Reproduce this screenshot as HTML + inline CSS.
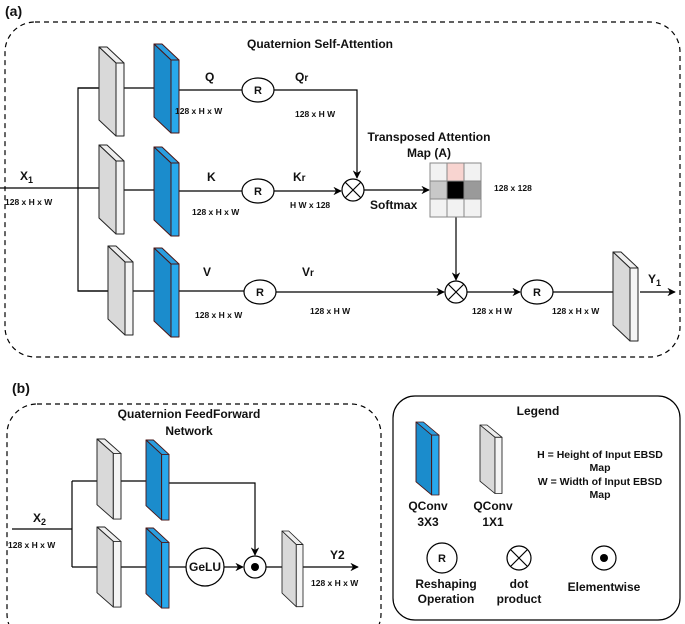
<!DOCTYPE html>
<html><head><meta charset="utf-8"><style>body{margin:0;background:#fff}svg{display:block}text{font-family:"Liberation Sans",Arial,sans-serif;font-weight:bold;fill:#111}</style></head><body>
<svg width="685" height="624" viewBox="0 0 685 624" xmlns="http://www.w3.org/2000/svg">
<defs>
<marker id="ar" viewBox="0 0 10 10" refX="9" refY="5" markerWidth="7" markerHeight="7" orient="auto"><path d="M0,0 L10,5 L0,10 L3,5 z" fill="#000"/></marker>
<g id="gb" stroke="#222" stroke-width="1" stroke-linejoin="round">
<polygon points="0,0 8,0 25,16 17,16" fill="#eee"/>
<polygon points="0,0 17,16 17,89 0,73" fill="#d9d9d9"/>
<polygon points="17,16 25,16 25,89 17,89" fill="#f4f4f4"/>
</g>
<g id="bb" stroke="#4a1515" stroke-width="1" stroke-linejoin="round">
<polygon points="0,0 8,0 25,16 17,16" fill="#2a9ee0"/>
<polygon points="0,0 17,16 17,89 0,73" fill="#1b8ccc"/>
<polygon points="17,16 25,16 25,89 17,89" fill="#28a8ec"/>
</g>
</defs>
<g fill="none" stroke="#000" stroke-width="1.2">
<rect x="5" y="22" width="675" height="335" rx="30" stroke-dasharray="5,4"/>
<rect x="7" y="404" width="374" height="240" rx="30" stroke-dasharray="5,4"/>
<rect x="393" y="396" width="287" height="224" rx="22"/>
</g>
<text x="5" y="16" font-size="14">(a)</text>
<text x="320" y="48" font-size="12" text-anchor="middle">Quaternion Self-Attention</text>
<g stroke="#000" stroke-width="1.2" fill="none">
<line x1="0" y1="188" x2="115" y2="188" marker-end="url(#ar)"/>
<polyline points="110,88 78,88 78,291 115,291" />
<line x1="78" y1="88" x2="115" y2="88" marker-end="url(#ar)"/>
<line x1="78" y1="291" x2="122" y2="291" marker-end="url(#ar)"/>
<line x1="124" y1="88" x2="170" y2="88" marker-end="url(#ar)"/>
<line x1="124" y1="190" x2="170" y2="190" marker-end="url(#ar)"/>
<line x1="133" y1="291" x2="170" y2="291" marker-end="url(#ar)"/>
<line x1="179" y1="90" x2="242" y2="90"/>
<line x1="179" y1="191" x2="242" y2="191"/>
<line x1="179" y1="291" x2="244" y2="291"/>
<polyline points="274,90 357,90 357,178" marker-end="url(#ar)"/>
<line x1="274" y1="191" x2="341" y2="191" marker-end="url(#ar)"/>
<line x1="364" y1="190" x2="429" y2="190" marker-end="url(#ar)"/>
<line x1="456" y1="217" x2="456" y2="280" marker-end="url(#ar)"/>
<line x1="276" y1="292" x2="444" y2="292" marker-end="url(#ar)"/>
<line x1="467" y1="292" x2="520" y2="292" marker-end="url(#ar)"/>
<line x1="553" y1="292" x2="626" y2="292" marker-end="url(#ar)"/>
<line x1="640" y1="292" x2="675" y2="292" marker-end="url(#ar)"/>
</g>
<use href="#gb" x="99" y="47"/>
<use href="#bb" x="154" y="44"/>
<use href="#gb" x="99" y="145"/>
<use href="#bb" x="154" y="147"/>
<use href="#gb" x="108" y="246"/>
<use href="#bb" x="154" y="248"/>
<use href="#gb" x="613" y="252"/>
<g stroke="#000" stroke-width="1.2" fill="#fff">
<ellipse cx="258" cy="90" rx="16" ry="12"/>
<ellipse cx="258" cy="191" rx="16" ry="12"/>
<ellipse cx="260" cy="292" rx="16" ry="12"/>
<ellipse cx="537" cy="292" rx="16" ry="12"/>
<circle cx="353" cy="190" r="11"/>
<path d="M345,182 L361,198 M361,182 L345,198"/>
<circle cx="456" cy="292" r="11"/>
<path d="M448,284 L464,300 M464,284 L448,300"/>
</g>
<g stroke="#888" stroke-width="1">
<rect x="430" y="163" width="17" height="18" fill="#f2f2f2"/><rect x="447" y="163" width="17" height="18" fill="#f8d4d0"/><rect x="464" y="163" width="17" height="18" fill="#f2f2f2"/>
<rect x="430" y="181" width="17" height="18" fill="#c8c8c8"/><rect x="447" y="181" width="17" height="18" fill="#000"/><rect x="464" y="181" width="17" height="18" fill="#9a9a9a"/>
<rect x="430" y="199" width="17" height="18" fill="#f2f2f2"/><rect x="447" y="199" width="17" height="18" fill="#f2f2f2"/><rect x="464" y="199" width="17" height="18" fill="#f2f2f2"/>
</g>
<g font-size="11" text-anchor="middle">
<text x="258" y="94">R</text><text x="258" y="195">R</text><text x="260" y="296">R</text><text x="537" y="296">R</text>
</g>
<g font-size="12">
<text x="205" y="81">Q</text><text x="295" y="81">Q<tspan font-size="10">r</tspan></text>
<text x="207" y="181">K</text><text x="293" y="181">K<tspan font-size="10">r</tspan></text>
<text x="203" y="276">V</text><text x="302" y="276">V<tspan font-size="10">r</tspan></text>
<text x="20" y="180">X<tspan font-size="9" dy="3">1</tspan></text>
<text x="648" y="283">Y<tspan font-size="9" dy="3">1</tspan></text>
<text x="429" y="141" text-anchor="middle">Transposed Attention</text>
<text x="429" y="157" text-anchor="middle">Map (A)</text>
<text x="370" y="209">Softmax</text>
</g>
<g font-size="8.5">
<text x="5" y="205">128 x H x W</text>
<text x="175" y="114">128 x H x W</text>
<text x="295" y="117">128 x H W</text>
<text x="192" y="215">128 x H x W</text>
<text x="290" y="208">H W x 128</text>
<text x="494" y="191">128 x 128</text>
<text x="195" y="318">128 x H x W</text>
<text x="310" y="314">128 x H W</text>
<text x="472" y="314">128 x H W</text>
<text x="552" y="314">128 x H  x W</text>
</g>
<text x="12" y="393" font-size="14">(b)</text>
<g font-size="12" text-anchor="middle">
<text x="189" y="418">Quaternion FeedForward</text>
<text x="189" y="435">Network</text>
<text x="538" y="415">Legend</text>
</g>
<g stroke="#000" stroke-width="1.2" fill="none">
<polyline points="12,529 72,529"/>
<polyline points="72,481 72,567"/>
<line x1="72" y1="481" x2="113" y2="481" marker-end="url(#ar)"/>
<line x1="72" y1="567" x2="113" y2="567" marker-end="url(#ar)"/>
<line x1="121" y1="481" x2="162" y2="481" marker-end="url(#ar)"/>
<line x1="121" y1="567" x2="162" y2="567" marker-end="url(#ar)"/>
<polyline points="169,483 255,483 255,555" marker-end="url(#ar)"/>
<line x1="169" y1="567" x2="186" y2="567"/>
<line x1="224" y1="567" x2="243" y2="567" marker-end="url(#ar)"/>
<line x1="266" y1="567" x2="293" y2="567" marker-end="url(#ar)"/>
<line x1="303" y1="567" x2="358" y2="567" marker-end="url(#ar)"/>
</g>
<use href="#gb" transform="translate(97,439) scale(0.96,0.9)"/>
<use href="#bb" transform="translate(146,440) scale(0.92,0.9)"/>
<use href="#gb" transform="translate(97,527) scale(0.96,0.9)"/>
<use href="#bb" transform="translate(146,528) scale(0.92,0.9)"/>
<use href="#gb" transform="translate(282,531) scale(0.84,0.85)"/>
<use href="#bb" transform="translate(416,422) scale(0.92,0.82)"/>
<use href="#gb" transform="translate(480,425) scale(0.88,0.77)"/>
<g stroke="#000" stroke-width="1.2" fill="#fff">
<circle cx="205" cy="567" r="19"/>
<circle cx="255" cy="567" r="11"/>
<circle cx="442" cy="558" r="15"/>
<circle cx="519" cy="558" r="12"/>
<path d="M511,550 L527,566 M527,550 L511,566"/>
<circle cx="604" cy="558" r="12"/>
</g>
<circle cx="255" cy="567" r="4" fill="#000"/>
<circle cx="604" cy="558" r="4" fill="#000"/>
<g font-size="12" text-anchor="middle">
<text x="205" y="571">GeLU</text>
<text x="442" y="562" font-size="11">R</text>
<text x="428" y="510">QConv</text><text x="428" y="526">3X3</text>
<text x="493" y="510">QConv</text><text x="493" y="526">1X1</text>
<text x="446" y="588">Reshaping</text><text x="446" y="603">Operation</text>
<text x="519" y="588">dot</text><text x="519" y="603">product</text>
<text x="604" y="591">Elementwise</text>
<text x="600" y="458" font-size="10.5">H = Height of Input EBSD</text>
<text x="600" y="471" font-size="10.5">Map</text>
<text x="600" y="485" font-size="10.5">W = Width of Input EBSD</text>
<text x="600" y="498" font-size="10.5">Map</text>
</g>
<text x="33" y="522" font-size="12">X<tspan font-size="9" dy="3">2</tspan></text>
<text x="330" y="559" font-size="12">Y2</text>
<g font-size="8.5">
<text x="8" y="548">128 x H x W</text>
<text x="311" y="586">128 x H x W</text>
</g>
</svg>
</body></html>
